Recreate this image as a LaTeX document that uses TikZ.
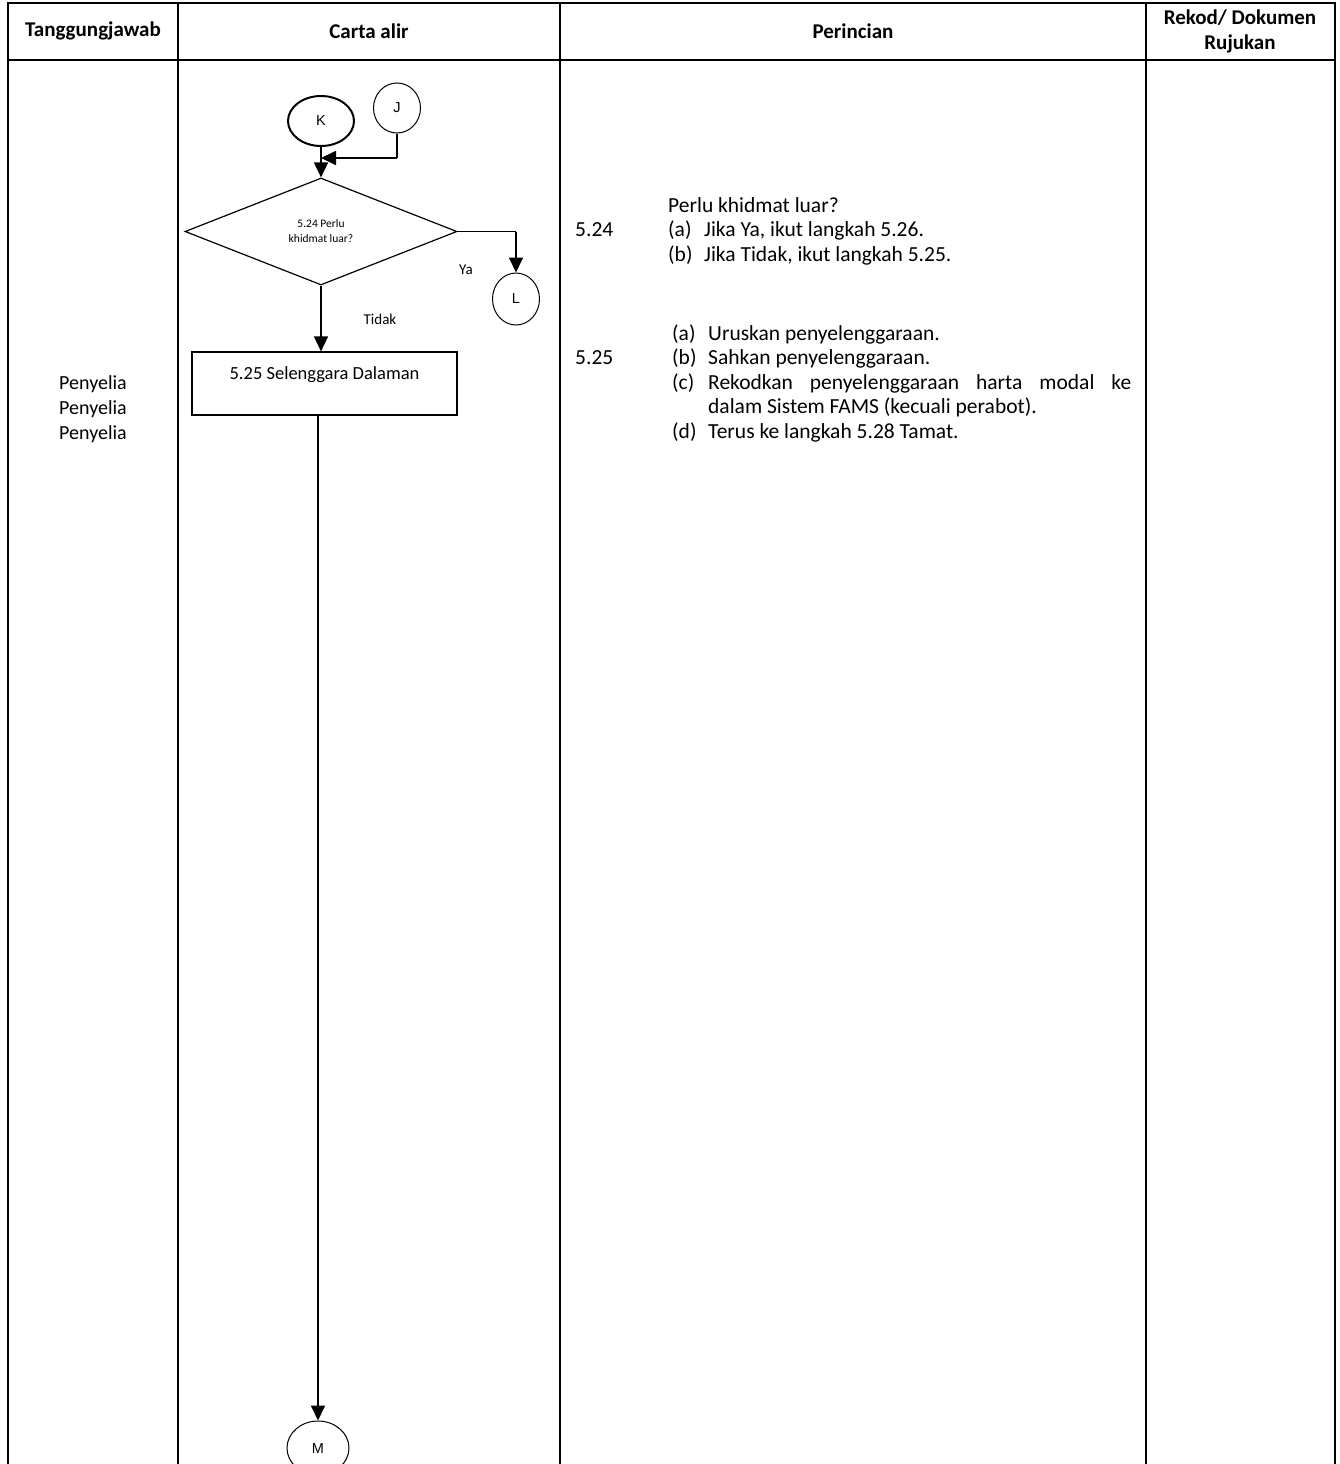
\documentclass[tikz,border=0pt]{standalone}
\usepackage{fontspec}
\setmainfont{Carlito}
\newfontfamily\arialf{Liberation Sans}
\usetikzlibrary{shapes.geometric,arrows.meta}
\begin{document}
\begin{tikzpicture}[x=1pt,y=-1pt,
  grid/.style={line width=2.6pt},
  conn/.style={line width=1.8pt,-{Triangle[length=15pt,width=14pt]}},
  plain/.style={line width=1.8pt},
  conncirc/.style={draw,ellipse,line width=1pt,inner sep=0pt,font=\arialf\fontsize{14.5}{17}\selectfont},
  hdr/.style={font=\bfseries\fontsize{21}{25}\selectfont,inner sep=0pt},
  body/.style={font=\fontsize{21.5}{24.5}\selectfont,inner sep=0pt,anchor=base west},
  small/.style={font=\fontsize{15}{18}\selectfont,inner sep=0pt}]
\useasboundingbox (0,0) rectangle (1339,1464);
\clip (0,0) rectangle (1339,1464);
% table
\draw[grid] (8,1470) -- (8,3) -- (1335,3) -- (1335,1470);
\draw[grid] (178,3) -- (178,1470);
\draw[grid] (560,3) -- (560,1470);
\draw[grid] (1146,3) -- (1146,1470);
\draw[grid] (8,60) -- (1335,60);
% headers
\node[hdr] (h1) at (93,31) {Tanggungjawab};
\node[hdr] (h2) at (369,31) {Carta alir};
\node[hdr] (h3) at (853,31) {Perincian};
\node[hdr,align=center] (h4) at (1240,31) {Rekod/ Dokumen\\Rujukan};
% responsibility
\node[font=\fontsize{20}{25}\selectfont,align=center,inner sep=0pt] (resp) at (93,409) {Penyelia\\Penyelia\\Penyelia};
% flowchart
\node[draw,ellipse,line width=2pt,minimum width=66pt,minimum height=50pt,inner sep=0pt,font=\arialf\fontsize{14.5}{17}\selectfont] (K) at (321,121) {K};
\node[conncirc,minimum width=47pt,minimum height=50pt] (J) at (397,108) {J};
\node[draw,diamond,line width=1.2pt,minimum width=272pt,minimum height=107pt,inner sep=0pt,align=center,font=\fontsize{11.5}{15}\selectfont] (D) at (321,231.5) {5.24 Perlu\\khidmat luar?};
\node[conncirc,minimum width=47pt,minimum height=52pt] (L) at (516,299) {L};
\node[draw,rectangle,line width=1.2pt,minimum width=265pt,minimum height=63pt,inner sep=0pt] (R) at (324.5,383.5) {};
\node[font=\fontsize{18.5}{22}\selectfont,inner sep=0pt] (Rt) at (324.5,375) {5.25 Selenggara Dalaman};
\node[conncirc,minimum width=62pt,minimum height=54pt] (M) at (318,1448) {M};
\coordinate (jc) at (397,158);
\coordinate (jm) at (321,158);
\coordinate (lc) at (L.north |- D.east);
\draw[conn] (K.south) -- (D.north);
\draw[plain] (J.south) -- (jc);
\draw[conn] (jc) -- (jm);
\draw[plain] (D.east) -- (lc);
\draw[conn] (lc) -- (L.north);
\draw[conn] (D.south) -- (R.north -| D.south);
\draw[conn] (R.south -| M.north) -- (M.north);
\node[small] (ya) at (466,270) {Ya};
\node[small] (tidak) at (380,319) {Tidak};
% details
\node[body] (p0) at (668,212) {Perlu khidmat luar?};
\node[body] (n24) at (575,236.5) {5.24};
\node[body] (a1) at (668,236.5) {(a)};
\node[body] (a1t) at (704,236.5) {Jika Ya, ikut langkah 5.26.};
\node[body] (b1) at (668,261) {(b)};
\node[body] (b1t) at (704,261) {Jika Tidak, ikut langkah 5.25.};
\node[body] (a2) at (672,340) {(a)};
\node[body] (a2t) at (708,340) {Uruskan penyelenggaraan.};
\node[body] (n25) at (575,364.5) {5.25};
\node[body] (b2) at (672,364.5) {(b)};
\node[body] (b2t) at (708,364.5) {Sahkan penyelenggaraan.};
\node[body] (c2) at (672,389) {(c)};
\node[body] (c2t) at (708,389) {\hbox to 423pt{Rekodkan\hfill penyelenggaraan\hfill harta\hfill modal\hfill ke}};
\node[body] (c2u) at (708,413.5) {dalam Sistem FAMS (kecuali perabot).};
\node[body] (d2) at (672,438) {(d)};
\node[body] (d2t) at (708,438) {Terus ke langkah 5.28 Tamat.};
\end{tikzpicture}
\end{document}
